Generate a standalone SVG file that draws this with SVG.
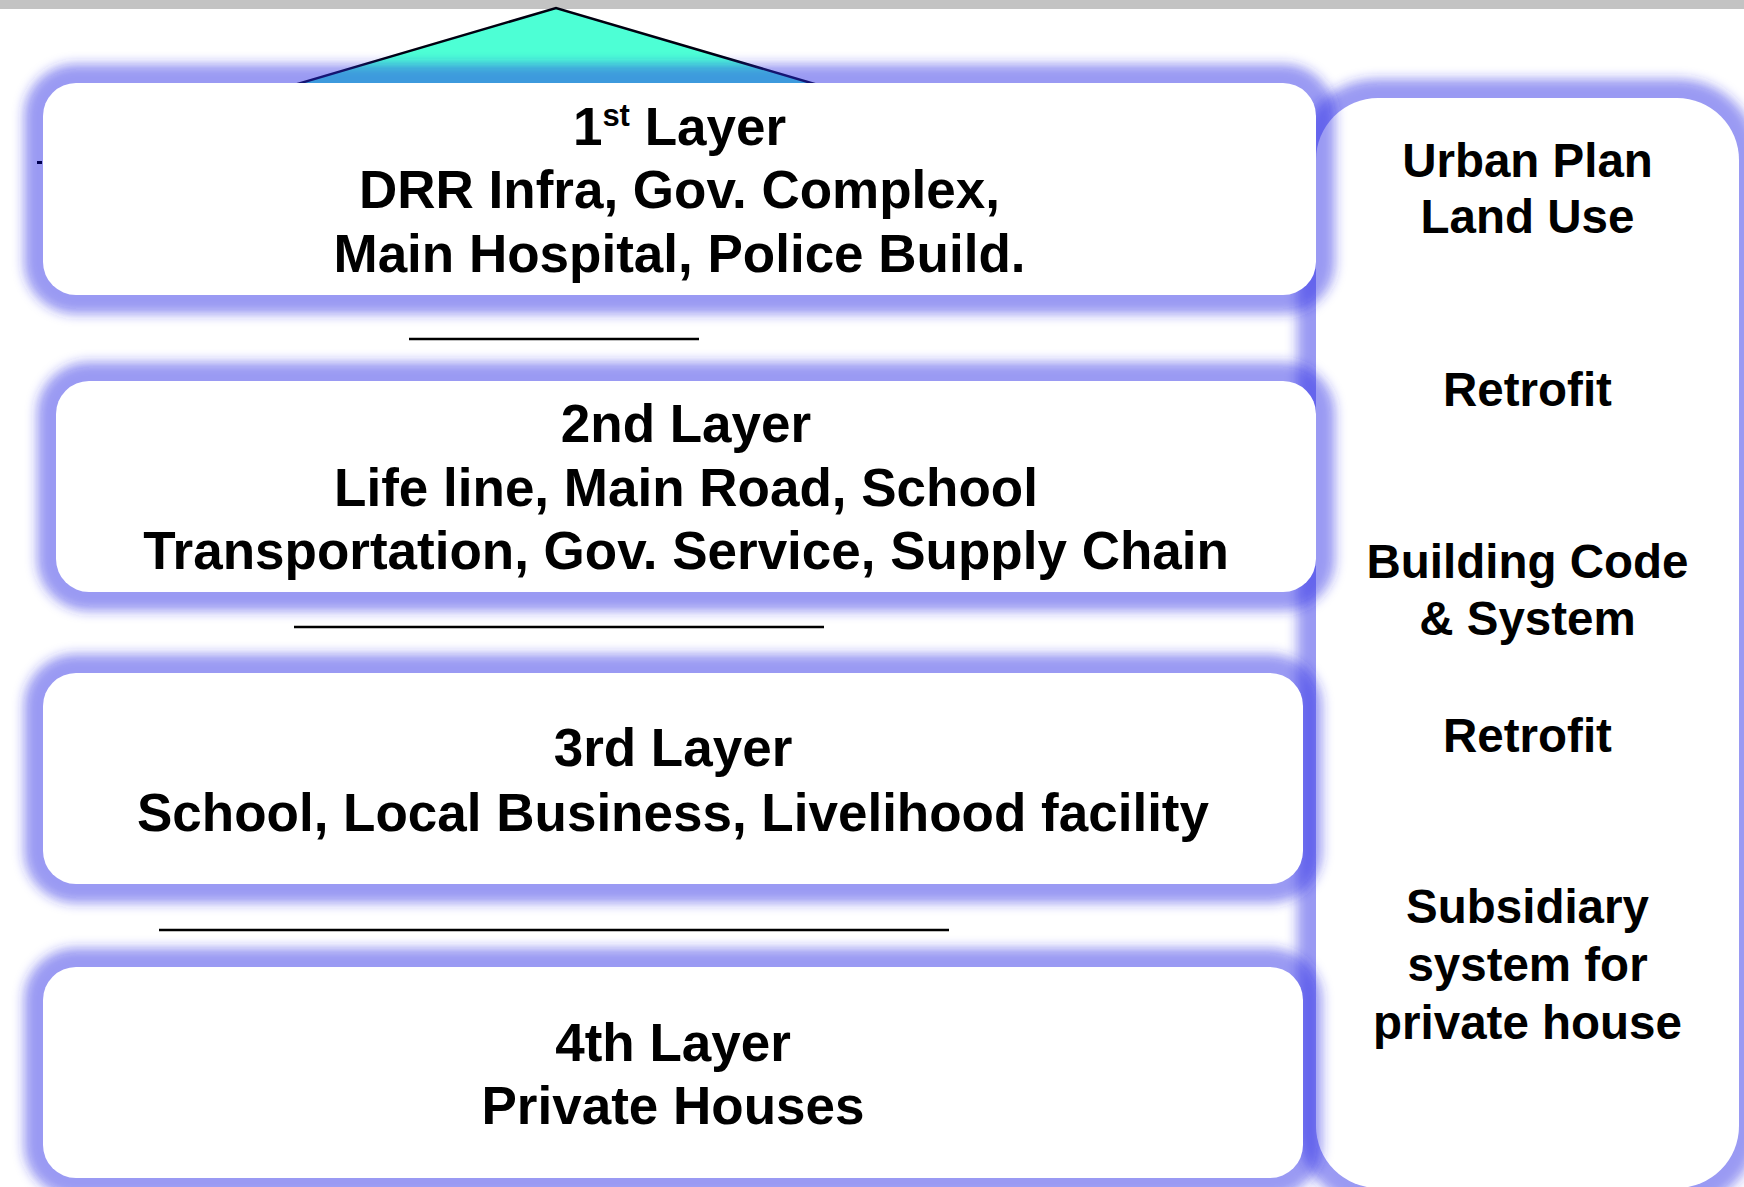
<svg xmlns="http://www.w3.org/2000/svg" width="1744" height="1187" viewBox="0 0 1744 1187">
<defs>
<filter id="blur" x="-10%" y="-25%" width="120%" height="150%"><feGaussianBlur stdDeviation="6"/></filter>
<style>
.glow{fill:#2b2be6;fill-opacity:0.48;filter:url(#blur)}
.box{fill:#ffffff}
.t{font-family:"Liberation Sans",Arial,sans-serif;font-weight:bold;fill:#000;text-anchor:middle}
.l{font-size:53px}
.r{font-size:47.5px}
.sep{stroke:#000;stroke-width:2.5;fill:none}
</style>
</defs>
<rect x="0" y="0" width="1744" height="1187" fill="#ffffff"/>
<rect x="0" y="0" width="1744" height="9" fill="#c3c3c3"/>
<g id="roof">
<polygon points="243,100 556,8 869,100" fill="#4dffd5" stroke="#000010" stroke-width="2.5" stroke-linejoin="miter"/>
</g>
<g id="measures">
<rect class="glow" x="1297" y="79" width="461" height="1128" rx="80"/>
<rect class="box" x="1316" y="98" width="423" height="1090" rx="62"/>
<g class="t r">
<text x="1527.5" y="177">Urban Plan</text>
<text x="1527.5" y="233">Land Use</text>
<text x="1527.5" y="406">Retrofit</text>
<text x="1527.5" y="578">Building Code</text>
<text x="1527.5" y="635">&amp; System</text>
<text x="1527.5" y="752">Retrofit</text>
<text x="1527.5" y="923">Subsidiary</text>
<text x="1527.5" y="981">system for</text>
<text x="1527.5" y="1039">private house</text>
</g>
</g>
<g id="layer1">
<rect class="glow" x="24" y="64" width="1311" height="250" rx="52"/>
<rect class="box" x="43" y="83" width="1273" height="212" rx="33"/>
<text class="t l" x="679.5" y="145">1<tspan font-size="31" dy="-19">st</tspan><tspan dy="19"> Layer</tspan></text>
<text class="t l" x="679.5" y="208">DRR Infra, Gov. Complex,</text>
<text class="t l" x="679.5" y="272">Main Hospital, Police Build.</text>
</g>
<g id="layer2">
<rect class="glow" x="37" y="362" width="1298" height="249" rx="52"/>
<rect class="box" x="56" y="381" width="1260" height="211" rx="33"/>
<text class="t l" x="686" y="442">2nd Layer</text>
<text class="t l" x="686" y="506">Life line, Main Road, School</text>
<text class="t l" x="686" y="569">Transportation, Gov. Service, Supply Chain</text>
</g>
<g id="layer3">
<rect class="glow" x="24" y="654" width="1298" height="249" rx="52"/>
<rect class="box" x="43" y="673" width="1260" height="211" rx="33"/>
<text class="t l" x="673" y="766">3rd Layer</text>
<text class="t l" x="673" y="831">School, Local Business, Livelihood facility</text>
</g>
<g id="layer4">
<rect class="glow" x="24" y="948" width="1298" height="249" rx="52"/>
<rect class="box" x="43" y="967" width="1260" height="211" rx="33"/>
<text class="t l" x="673" y="1061">4th Layer</text>
<text class="t l" x="673" y="1124">Private Houses</text>
</g>
<g id="connectors">
<line class="sep" x1="409" y1="339" x2="699" y2="339"/>
<line class="sep" x1="294" y1="627" x2="824" y2="627"/>
<line class="sep" x1="159" y1="930" x2="949" y2="930"/>
<rect x="37" y="161" width="5" height="3" fill="#000050"/>
</g>
</svg>
